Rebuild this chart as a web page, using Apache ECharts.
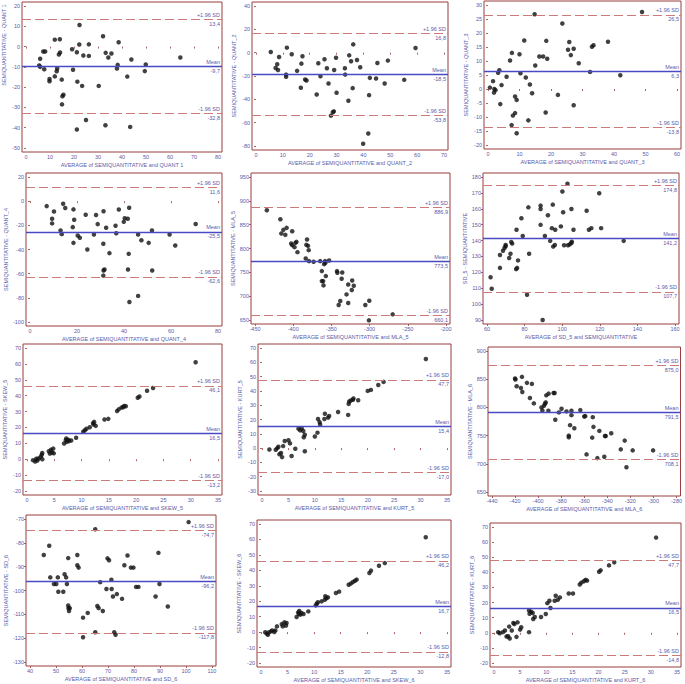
<!DOCTYPE html>
<html>
<head>
<meta charset="utf-8">
<script src="https://cdn.jsdelivr.net/npm/echarts/dist/echarts.min.js"></script>
<style>
  html, body { margin: 0; padding: 0; background: #fff; }
  #chart { width: 685px; height: 684px; }
</style>
</head>
<body>
<div id="chart"></div>
<script>
// ---- data (one array per panel) ----
var quant1 = [[22.3,10.6],[32.1,5.1],[12.0,3.4],[14.1,3.6],[38.6,2.1],[22.2,1.0],[26.2,1.1],[19.2,-1.3],[21.2,-2.8],[14.2,-2.9],
  [13.7,-3.9],[7.2,-2.4],[8.0,-2.4],[5.9,-6.0],[5.5,-9.3],[5.9,-10.0],[7.6,-11.2],[9.8,-16.0],[9.8,-17.1],[12.0,-14.7],
  [12.8,-12.2],[13.0,-10.8],[14.9,-16.3],[15.2,-24.5],[15.6,-23.7],[15.0,-28.5],[19.6,-11.4],[21.4,-17.3],[23.4,-19.4],[30.3,-19.4],
  [23.9,-4.4],[26.2,-4.6],[33.2,-3.1],[35.6,-3.4],[34.3,-5.4],[38.2,-9.0],[37.9,-10.8],[42.2,-14.8],[43.9,-6.4],[49.5,-12.1],
  [49.9,-8.8],[64.3,-5.4],[21.2,-40.9],[25.0,-36.2],[33.1,-38.8],[43.4,-39.6]];
var quant2 = [[5.5,0.6],[11.5,4.3],[13.3,-1.4],[8.6,-3.7],[7.3,-13.1],[7.9,-9.9],[8.2,-14.8],[11.2,-18.8],[11.2,-20.7],[15.3,-15.6],
  [16.9,-9.4],[17.3,-3.1],[16.7,-30.1],[18.3,-23.0],[18.8,-23.9],[22.6,-35.8],[23.2,-9.1],[24.0,-20.2],[25.5,-5.7],[26.4,-13.4],
  [27.0,-26.4],[29.1,-14.8],[29.8,-4.3],[30.0,-34.4],[27.9,-54.0],[28.6,-51.1],[29.0,-50.3],[33.1,-13.4],[33.2,-18.8],[34.7,-2.3],
  [35.4,-7.4],[36.2,7.1],[36.0,-30.4],[34.4,-41.2],[37.6,-6.3],[38.8,-12.5],[42.1,-36.4],[42.4,-21.6],[44.7,-22.1],[45.2,-8.8],
  [47.9,-26.4],[49.1,-6.8],[55.2,-23.3],[59.4,4.0],[41.8,-69.3],[39.9,-78.1]];
var quant3 = [[0.6,0.5],[1.6,2.8],[1.9,-1.3],[2.0,0.0],[2.4,-0.4],[3.2,5.8],[3.6,6.7],[3.9,-5.4],[4.3,1.4],[5.9,4.4],
  [7.0,10.2],[7.6,12.9],[7.5,-12.9],[7.9,-9.5],[8.6,-2.7],[8.6,-8.6],[9.1,-3.9],[9.1,-15.8],[10.0,12.4],[10.3,5.6],
  [11.5,17.3],[12.0,4.1],[12.8,-11.2],[13.3,1.6],[14.0,-1.5],[14.8,26.7],[15.0,8.4],[16.3,11.6],[17.5,11.6],[18.5,17.2],
  [18.8,10.8],[18.3,-8.4],[22.2,-2.1],[23.6,23.4],[25.4,14.0],[25.8,16.8],[26.3,12.1],[27.2,14.4],[27.2,-5.8],[28.8,9.2],
  [32.4,6.1],[33.0,15.1],[33.5,15.6],[38.1,16.9],[42.0,4.9],[48.9,27.5]];
var quant4 = [[7.1,-4.1],[10.2,-8.6],[9.4,-14.6],[9.4,-18.4],[13.0,-24.2],[13.5,-27.3],[14.1,-2.1],[15.0,-5.7],[18.2,-21.5],[18.5,-6.8],
  [18.8,-15.4],[18.5,-34.5],[20.3,-28.4],[21.2,-30.3],[23.7,-11.2],[24.4,-40.0],[27.2,-27.6],[28.1,-11.5],[28.8,-19.0],[31.3,-8.3],
  [31.2,-35.3],[31.3,-57.4],[31.7,-56.6],[31.2,-61.6],[32.4,-22.0],[33.8,-43.0],[36.4,-20.4],[36.7,-26.5],[37.8,-6.9],[39.9,-17.1],
  [40.3,-14.1],[41.6,-14.6],[42.2,-5.5],[42.0,-43.6],[41.7,-56.6],[46.0,-27.6],[47.4,-32.3],[46.0,-78.4],[42.3,-83.4],[50.5,-34.5],
  [51.9,-24.2],[52.0,-57.4],[59.4,-27.6],[61.8,-36.7],[70.5,-18.9]];
var mla5 = [[-434.5,880.2],[-416.8,861.4],[-408.6,843.3],[-412.9,839.1],[-415.5,831.4],[-410.3,828.6],[-401.3,836.3],[-402.6,810.5],[-401.3,807.0],[-397.0,811.9],
  [-395.7,814.0],[-398.3,802.8],[-394.4,792.3],[-383.6,779.1],[-381.9,818.8],[-380.6,805.6],[-382.8,807.7],[-379.7,796.5],[-379.3,773.5],[-373.3,772.1],
  [-364.7,773.5],[-362.5,752.6],[-362.5,731.6],[-360.8,731.6],[-360.3,722.6],[-359.5,767.2],[-357.8,770.0],[-358.2,773.5],[-357.3,742.1],[-353.0,774.9],
  [-342.7,752.6],[-342.2,749.1],[-336.6,736.5],[-335.8,749.8],[-338.4,689.8],[-340.5,681.4],[-330.2,703.7],[-328.0,724.6],[-328.0,685.6],[-322.8,733.0],
  [-323.3,712.8],[-320.7,721.9],[-305.6,681.4],[-300.4,690.5],[-300.9,649.3],[-269.8,661.9]];
var sd5 = [[61.9,116.9],[62.5,109.7],[66.9,122.8],[66.9,130.9],[68.5,133.6],[69.3,135.3],[69.9,136.4],[69.9,137.2],[71.8,129.0],[72.5,131.7],
  [72.9,139.1],[73.4,138.1],[75.5,122.0],[76.0,122.8],[75.7,146.8],[76.5,127.5],[78.3,154.0],[79.0,142.9],[82.0,160.9],[82.4,131.7],
  [81.3,105.9],[88.5,162.0],[88.5,159.9],[88.5,149.9],[89.6,90.0],[90.8,142.9],[92.4,155.9],[93.6,139.8],[94.5,147.8],[95.0,162.6],
  [95.2,136.2],[96.1,137.2],[96.3,146.8],[99.3,148.9],[100.1,170.9],[100.5,157.8],[101.0,137.0],[102.8,175.8],[103.1,137.0],[104.0,137.6],
  [104.9,159.9],[104.9,138.5],[105.1,139.3],[106.0,146.8],[113.0,158.8],[114.2,146.8],[115.5,147.8],[119.7,169.8],[120.7,147.8],[132.7,139.8]];
var skew5 = [[1.1,-0.6],[1.5,-1.4],[1.7,0.3],[1.9,-0.8],[2.1,0.5],[2.5,1.5],[2.8,0.0],[2.7,2.8],[2.8,3.9],[4.0,5.0],
  [4.2,3.5],[4.4,6.0],[4.6,4.3],[4.9,3.7],[4.8,6.7],[6.8,9.9],[7.1,12.0],[7.2,13.1],[7.3,10.9],[7.6,12.2],
  [7.7,11.4],[8.1,11.8],[9.0,13.5],[10.3,17.3],[10.6,18.2],[10.9,19.2],[11.5,20.1],[12.1,22.7],[12.2,21.8],[12.3,23.5],
  [12.6,21.0],[14.2,25.0],[14.9,25.4],[16.5,30.3],[16.8,31.4],[17.3,32.5],[17.6,32.7],[17.8,33.5],[18.1,33.3],[20.3,38.7],
  [20.6,39.5],[22.0,43.1],[23.1,44.8],[30.9,61.0]];
var kurt5 = [[1.4,-1.0],[2.6,-1.2],[2.9,0.0],[3.1,0.9],[3.3,-4.3],[3.6,-3.4],[3.8,-6.3],[4.0,1.4],[4.3,5.0],[5.0,5.5],
  [5.3,3.3],[5.6,-5.5],[6.3,-0.5],[6.9,13.6],[7.2,12.4],[7.5,13.9],[7.8,12.0],[7.9,7.6],[8.1,9.3],[8.1,-2.2],
  [10.0,8.1],[10.5,10.8],[10.6,20.4],[10.9,18.2],[11.0,16.5],[11.8,20.4],[11.9,24.0],[12.5,21.3],[12.7,22.5],[14.4,25.2],
  [16.3,23.2],[16.4,30.9],[16.5,32.6],[16.8,33.3],[17.2,33.8],[17.3,34.7],[18.2,33.5],[20.0,40.0],[20.6,40.7],[22.0,44.1],
  [23.0,46.3],[31.0,62.3]];
var mla6 = [[-420.0,851.2],[-419.7,849.4],[-418.6,837.5],[-414.9,834.5],[-414.0,854.2],[-413.7,827.4],[-409.7,843.5],[-407.1,816.7],[-405.4,841.7],[-403.7,807.1],
  [-397.1,800.0],[-396.3,794.6],[-394.9,803.0],[-394.0,806.5],[-393.4,808.9],[-392.9,821.4],[-390.9,824.4],[-391.1,794.0],[-386.6,825.6],[-385.7,825.6],
  [-385.1,778.0],[-382.0,791.1],[-379.7,797.6],[-375.4,792.9],[-373.4,750.0],[-373.4,747.0],[-372.3,768.5],[-371.1,786.3],[-371.1,794.0],[-368.6,763.1],
  [-363.4,795.2],[-360.0,783.9],[-359.1,784.5],[-358.0,716.7],[-352.6,782.7],[-352.0,765.5],[-353.1,746.4],[-348.6,710.1],[-346.9,758.3],[-342.0,749.4],
  [-341.4,749.4],[-342.6,712.5],[-336.6,754.2],[-328.3,725.6],[-324.9,741.1],[-323.4,694.0],[-318.0,723.8],[-300.3,723.8]];
var sd6 = [[45.3,-85.1],[47.4,-81.2],[47.8,-94.5],[49.2,-97.3],[50.1,-97.3],[50.7,-94.5],[50.9,-100.5],[52.8,-100.5],[53.3,-93.2],[53.9,-94.5],
  [54.2,-97.3],[54.7,-86.4],[54.7,-106.3],[54.8,-107.4],[55.0,-108.6],[55.3,-107.4],[58.2,-85.1],[58.2,-89.4],[58.7,-90.4],[60.4,-111.4],
  [60.4,-119.6],[62.2,-109.4],[65.1,-74.3],[65.1,-117.5],[65.9,-106.5],[66.4,-107.4],[67.0,-96.5],[68.0,-108.6],[69.4,-99.4],[69.8,-86.5],
  [70.4,-87.3],[71.3,-95.5],[71.4,-99.4],[71.9,-102.5],[72.4,-117.5],[72.9,-118.6],[73.4,-101.5],[75.4,-103.5],[76.3,-89.4],[77.5,-85.3],
  [78.8,-90.4],[79.8,-90.4],[80.8,-98.5],[81.7,-98.5],[88.3,-102.5],[89.4,-84.2],[89.8,-97.3],[93.0,-106.7],[101.0,-71.3]];
var skew6 = [[0.8,-0.1],[1.1,-1.0],[1.3,-1.7],[1.5,-0.1],[1.9,0.5],[2.1,1.1],[2.5,0.1],[2.7,1.1],[3.0,3.7],[3.9,5.2],
  [4.1,3.7],[4.4,6.3],[4.7,4.2],[4.8,5.9],[6.7,9.8],[7.0,12.8],[7.1,11.7],[7.2,13.7],[7.4,11.3],[7.6,12.4],
  [8.0,11.7],[8.9,13.4],[10.3,17.3],[10.5,18.4],[10.7,19.3],[11.4,19.9],[12.0,21.0],[12.1,23.2],[12.3,21.9],[12.6,22.5],
  [14.1,25.3],[14.7,26.2],[16.5,30.7],[16.9,31.4],[17.3,32.4],[17.7,33.3],[18.0,34.0],[20.4,38.3],[20.7,39.8],[22.2,43.0],
  [23.3,44.7],[31.0,61.4]];
var kurt6 = [[0.8,0.4],[1.1,-0.3],[1.7,0.4],[2.1,1.5],[2.4,-2.5],[2.7,-2.3],[2.9,4.1],[3.0,-3.8],[3.4,1.5],[3.7,6.5],
  [3.9,5.8],[4.3,-2.7],[4.5,6.9],[5.0,2.1],[5.2,3.7],[6.7,0.4],[6.7,14.8],[6.8,12.6],[7.1,13.9],[7.4,13.1],
  [7.5,9.1],[7.8,10.4],[9.0,10.4],[9.9,12.4],[10.2,19.6],[10.6,21.2],[10.8,16.4],[11.6,21.2],[11.8,24.5],[12.2,21.8],
  [12.6,23.4],[14.3,26.0],[15.1,26.0],[16.4,31.9],[16.7,33.2],[17.2,34.1],[17.5,35.0],[17.8,34.5],[20.1,40.4],[20.4,41.3],
  [22.0,44.6],[23.0,46.6],[31.0,63.0]];

var points = [quant1, quant2, quant3, quant4, mla5, sd5, skew5, kurt5, mla6, sd6, skew6, kurt6];

var meanDiff = [-9.7, -18.5, 6.3, -25.5, 773.5, 141.2, 16.5, 15.4, 791.5, -96.2, 16.7, 16.5];
var upperLoA = [13.4, 16.8, 26.5, 11.6, 886.9, 174.8, 46.1, 47.7, 875.0, -74.7, 46.2, 47.7];
var lowerLoA = [-32.8, -53.8, -13.8, -62.6, 660.1, 107.7, -13.2, -17.0, 708.1, -117.8, -12.8, -14.8];

var xTitles = ['AVERAGE of SEMIQUANTITATIVE and QUANT 1', 'AVERAGE of SEMIQUANTITATIVE and QUANT_2', 'AVERAGE of SEMIQUANTITATIVE and QUANT_3',
  'AVERAGE of SEMIQUANTITATIVE and QUANT_4', 'AVERAGE of SEMIQUANTITATIVE and MLA_5', 'AVERAGE of SD_5 and SEMIQUANTITATIVE',
  'AVERAGE of SEMIQUANTITATIVE and SKEW_5', 'AVERAGE of SEMIQUANTITATIVE and KURT_5', 'AVERAGE of SEMIQUANTITATIVE and MLA_6',
  'AVERAGE of SEMIQUANTITATIVE and SD_6', 'AVERAGE of SEMIQUANTITATIVE and SKEW_6', 'AVERAGE of SEMIQUANTITATIVE and KURT_6'];
var yTitles = ['SEMIQUANTITATIVE - QUANT 1', 'SEMIQUANTITATIVE - QUANT_2', 'SEMIQUANTITATIVE - QUANT_3',
  'SEMIQUANTITATIVE - QUANT_4', 'SEMIQUANTITATIVE - MLA_5', 'SD_5 - SEMIQUANTITATIVE',
  'SEMIQUANTITATIVE - SKEW_5', 'SEMIQUANTITATIVE - KURT_5', 'SEMIQUANTITATIVE - MLA_6',
  'SEMIQUANTITATIVE - SD_6', 'SEMIQUANTITATIVE - SKEW_6', 'SEMIQUANTITATIVE - KURT_6'];

// tick labels
var xTicks = [
  [0, 10, 20, 30, 40, 50, 60, 70, 80],
  [0, 10, 20, 30, 40, 50, 60, 70],
  [0, 10, 20, 30, 40, 50, 60],
  [0, 20, 40, 60, 80],
  [-450, -400, -350, -300, -250, -200],
  [60, 80, 100, 120, 140, 160],
  [0, 5, 10, 15, 20, 25, 30, 35],
  [0, 5, 10, 15, 20, 25, 30, 35],
  [-440, -420, -400, -380, -360, -340, -320, -300, -280],
  [40, 50, 60, 70, 80, 90, 100, 110],
  [0, 5, 10, 15, 20, 25, 30, 35],
  [0, 5, 10, 15, 20, 25, 30, 35]];
var yTicks = [
  [-50, -40, -30, -20, -10, 0, 10, 20],
  [-80, -60, -40, -20, 0, 20, 40],
  [-20, -15, -10, -5, 0, 5, 10, 15, 20, 25, 30],
  [-100, -80, -60, -40, -20, 0, 20],
  [650, 700, 750, 800, 850, 900, 950],
  [90, 100, 110, 120, 130, 140, 150, 160, 170, 180],
  [-20, -10, 0, 10, 20, 30, 40, 50, 60, 70],
  [-30, -20, -10, 0, 10, 20, 30, 40, 50, 60, 70],
  [650, 700, 750, 800, 850, 900],
  [-130, -120, -110, -100, -90, -80, -70],
  [-20, -10, 0, 10, 20, 30, 40, 50, 60, 70],
  [-20, -10, 0, 10, 20, 30, 40, 50, 60, 70]];

// plot frames in px: [left, top, right, bottom]
var frames = [
  [21, 2, 222, 152], [252, 2, 448, 150], [484, 1, 681, 149],
  [26, 173, 222, 326], [251, 173, 450, 324], [483, 173, 679, 324],
  [23, 344, 222, 495], [258, 344, 451, 495], [488, 347, 681, 496],
  [26, 515, 216, 666], [257, 520, 451, 667], [490, 523, 681, 667]];

var FRAME = '#9a3c3c';
var TEXT = '#5a5aa8';
var FONT = 'Liberation Sans, Arial, sans-serif';
var PAD = 4; // gap between frame and first/last tick

function fmt(v) { return v.toFixed(1).replace('.', ','); }

function padded(ticks, px) {
  var lo = ticks[0], hi = ticks[ticks.length - 1];
  var extra = (hi - lo) * PAD / (px - 2 * PAD);
  return [lo - extra, hi + extra];
}

var grids = [], xAxes = [], yAxes = [], series = [];

points.forEach(function (pts, i) {
  var f = frames[i];
  var w = f[2] - f[0], h = f[3] - f[1];
  grids.push({
    left: f[0], top: f[1], width: w, height: h,
    show: true, borderColor: FRAME, borderWidth: 1, backgroundColor: 'transparent'
  });
  var xr = padded(xTicks[i], w), yr = padded(yTicks[i], h);
  xAxes.push({
    type: 'value', gridIndex: i, min: xr[0], max: xr[1],
    axisLine: { show: false },
    axisTick: { show: true, customValues: xTicks[i], length: 2, lineStyle: { color: FRAME, width: 0.8 } },
    axisLabel: { customValues: xTicks[i], fontSize: 5.5, color: TEXT, margin: 2, fontFamily: FONT },
    splitLine: { show: false },
    name: xTitles[i], nameLocation: 'middle', nameGap: 10,
    nameTextStyle: { fontSize: 5.5, color: TEXT, fontFamily: FONT }
  });
  // first panel's y title sits in the upper half of its frame
  var shift = i === 0 ? [0, 0, 0, 64] : 0;
  yAxes.push({
    type: 'value', gridIndex: i, min: yr[0], max: yr[1],
    axisLine: { show: false },
    axisTick: { show: true, customValues: yTicks[i], length: 2, lineStyle: { color: FRAME, width: 0.8 } },
    axisLabel: { customValues: yTicks[i], fontSize: 5.5, color: TEXT, margin: 2, fontFamily: FONT },
    splitLine: { show: false },
    name: yTitles[i], nameLocation: 'middle', nameGap: 15,
    nameTextStyle: { fontSize: 5.5, color: TEXT, fontFamily: FONT, padding: shift }
  });

  var dash = { type: [9, 4], color: '#cc7a7a', width: 1 };
  var solid = { type: 'solid', color: '#4a4ac4', width: 1.4 };
  var hidden = { color: 'rgba(255,255,255,0)', width: 0 };
  function lab(pos, txt) {
    return { show: true, position: pos, formatter: txt, fontSize: 5.5, color: TEXT, fontFamily: FONT, distance: [2, 1.5] };
  }
  series.push({
    type: 'scatter', xAxisIndex: i, yAxisIndex: i, data: pts,
    symbolSize: 4.5, itemStyle: { color: '#111' }, silent: true, z: 3,
    markLine: {
      silent: true, symbol: 'none', animation: false,
      data: [
        { yAxis: upperLoA[i], lineStyle: dash, label: lab('insideEndTop', '+1.96 SD') },
        { yAxis: upperLoA[i], lineStyle: hidden, label: lab('insideEndBottom', fmt(upperLoA[i])) },
        { yAxis: meanDiff[i], lineStyle: solid, label: lab('insideEndTop', 'Mean') },
        { yAxis: meanDiff[i], lineStyle: hidden, label: lab('insideEndBottom', fmt(meanDiff[i])) },
        { yAxis: lowerLoA[i], lineStyle: dash, label: lab('insideEndTop', '-1.96 SD') },
        { yAxis: lowerLoA[i], lineStyle: hidden, label: lab('insideEndBottom', fmt(lowerLoA[i])) }
      ]
    }
  });
});

var chart = echarts.init(document.getElementById('chart'), null, { renderer: 'svg' });
chart.setOption({
  animation: false,
  backgroundColor: '#fff',
  grid: grids,
  xAxis: xAxes,
  yAxis: yAxes,
  series: series
});
</script>
</body>
</html>
